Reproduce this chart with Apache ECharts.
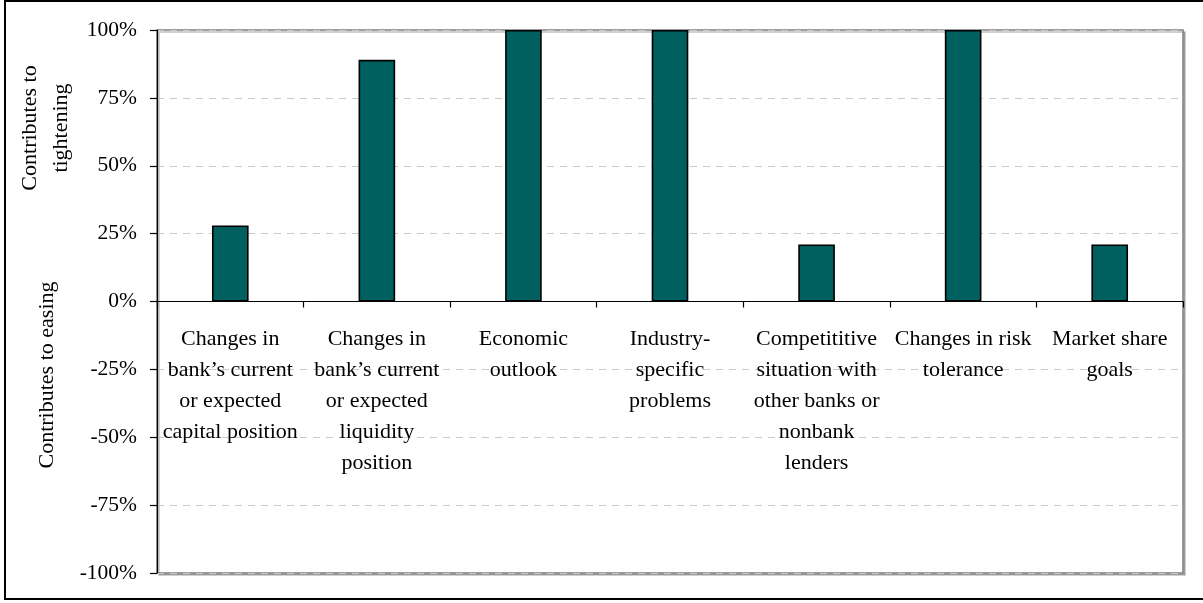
<!DOCTYPE html>
<html>
<head>
<meta charset="utf-8">
<script src="https://cdn.jsdelivr.net/npm/echarts@6/dist/echarts.min.js"></script>
<style>
  html, body { margin: 0; padding: 0; background: #fff; }
  #chart { width: 1203px; height: 603px; }
</style>
</head>
<body>
<div id="chart"></div>
<script>
// Factors behind the change in lending standards (share of respondents)
const categories = [
  'Changes in\nbank\u2019s current\nor expected\ncapital position',
  'Changes in\nbank\u2019s current\nor expected\nliquidity\nposition',
  'Economic\noutlook',
  'Industry-\nspecific\nproblems',
  'Competititive\nsituation with\nother banks or\nnonbank\nlenders',
  'Changes in risk\ntolerance',
  'Market share\ngoals'
];
const shareValues = [28, 89, 100, 100, 21, 100, 21];
const yMin = -100;
const yMax = 100;
const yStep = 25;
const tighteningTitle = 'Contributes to\ntightening';
const easingTitle = 'Contributes to easing';

const FONT = '"Liberation Serif", "DejaVu Serif", serif';

const chart = echarts.init(document.getElementById('chart'), null, { renderer: 'canvas' });

chart.setOption({
  animation: false,
  backgroundColor: '#ffffff',
  grid: {
    left: 157,
    right: 20,
    top: 30,
    bottom: 30,
    outerBoundsMode: 'none',
    containLabel: false,
    show: true,
    backgroundColor: '#ffffff',
    borderColor: '#808080',
    borderWidth: 1.5,
    shadowColor: 'rgba(0,0,0,0.25)',
    shadowOffsetX: 2,
    shadowOffsetY: 2,
    shadowBlur: 0
  },
  xAxis: {
    type: 'category',
    data: categories,
    position: 'bottom',
    offset: 0,
    axisLine: { onZero: false, lineStyle: { color: '#000', width: 1.2 } },
    axisTick: { show: true, length: 6, lineStyle: { color: '#000', width: 1.2 } },
    axisLabel: {
      interval: 0,
      margin: 22,
      color: '#000',
      fontFamily: FONT,
      fontSize: 22,
      lineHeight: 31,
      align: 'center'
    },
    splitLine: { show: false }
  },
  yAxis: {
    type: 'value',
    min: yMin,
    max: yMax,
    interval: yStep,
    axisLine: { show: true, lineStyle: { color: '#000', width: 1.2 } },
    axisTick: { show: true, length: 7, lineStyle: { color: '#000', width: 1.2 } },
    axisLabel: {
      formatter: '{value}%',
      margin: 20,
      color: '#000',
      fontFamily: FONT,
      fontSize: 21.5
    },
    splitLine: {
      show: true,
      lineStyle: { color: '#c8c8c8', type: [7, 6], width: 1.2 }
    }
  },
  series: [{
    type: 'bar',
    data: shareValues,
    barWidth: '25%',
    itemStyle: {
      color: '#006060',
      borderColor: '#000',
      borderWidth: 1.6
    }
  }],
  graphic: [
    {
      type: 'rect',
      z: 100,
      silent: true,
      shape: { x: 5, y: 1, width: 1210, height: 598 },
      style: { fill: 'none', stroke: '#000', lineWidth: 2 }
    },
    {
      type: 'text',
      x: 46,
      y: 128,
      rotation: Math.PI / 2,
      style: {
        text: tighteningTitle,
        fontFamily: FONT,
        fontSize: 22,
        lineHeight: 31,
        fill: '#000',
        align: 'center',
        verticalAlign: 'middle'
      }
    },
    {
      type: 'text',
      x: 47,
      y: 375,
      rotation: Math.PI / 2,
      style: {
        text: easingTitle,
        fontFamily: FONT,
        fontSize: 22,
        lineHeight: 31,
        fill: '#000',
        align: 'center',
        verticalAlign: 'middle'
      }
    }
  ]
});

// Move the category axis (line, ticks and labels) up to the zero line.
const yZero = chart.convertToPixel({ yAxisIndex: 0 }, 0);
const yBottom = chart.convertToPixel({ yAxisIndex: 0 }, yMin);
chart.setOption({ xAxis: { offset: -(yBottom - yZero) } });
</script>
</body>
</html>
